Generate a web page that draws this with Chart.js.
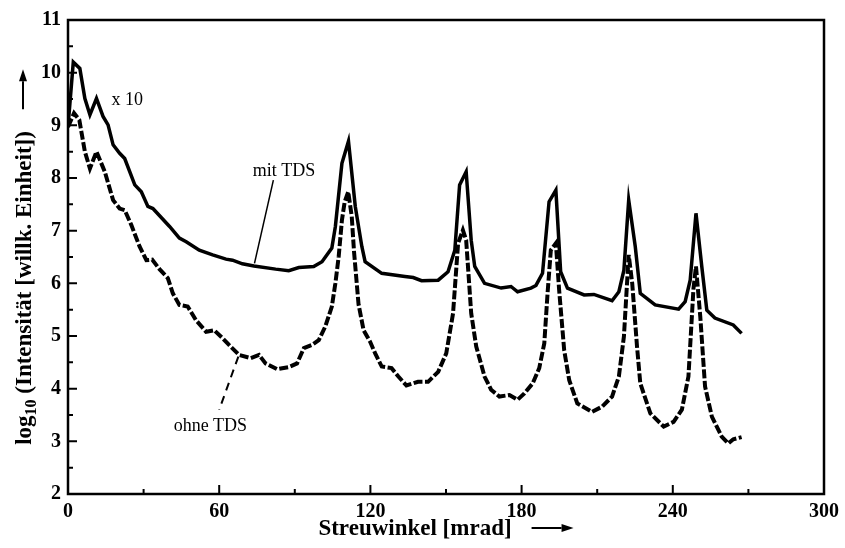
<!DOCTYPE html>
<html>
<head>
<meta charset="utf-8">
<script src="https://cdn.jsdelivr.net/npm/chart.js@4"></script>
<style>
  html, body { margin: 0; padding: 0; background: #fff; }
  #wrap { width: 845px; height: 548px; }
</style>
</head>
<body>
<div id="wrap"><canvas id="chart" width="845" height="548"></canvas></div>
<script>
// mit TDS (x 10)
const angleMit = [0, 2.1, 4.7, 6.7, 8.7, 11.3, 13.9, 15.9, 17.9, 20.5, 22.5, 26.5, 29.1, 31.7, 33.7,
  40.3, 44.2, 46.9, 52.1, 57.4, 62.7, 65.3, 69.2, 73.8, 82.4, 87.6, 91.6, 97.5, 100.8, 104.7,
  106.1, 108.7, 111.3, 114.0, 116.6, 117.9, 124.5, 133.7, 137.0, 140.3, 146.9, 150.8, 153.5,
  155.4, 158.0, 160.0, 161.4, 165.3, 171.9, 175.8, 178.4, 183.7, 185.7, 188.3, 190.9, 193.6,
  195.5, 198.2, 204.8, 208.7, 215.9, 218.6, 220.6, 222.5, 225.1, 227.1, 233.0, 242.3, 244.9,
  246.9, 249.2, 251.5, 253.5, 256.7, 264.0, 267.3];
const logMit = [8.97, 10.20, 10.08, 9.51, 9.20, 9.51, 9.17, 9.01, 8.63, 8.47, 8.37, 7.87, 7.74, 7.46, 7.42,
  7.08, 6.86, 6.79, 6.63, 6.54, 6.46, 6.44, 6.37, 6.33, 6.27, 6.24, 6.30, 6.32, 6.41, 6.67,
  7.08, 8.28, 8.70, 7.46, 6.70, 6.41, 6.19, 6.13, 6.11, 6.05, 6.06, 6.22, 6.63,
  7.87, 8.12, 6.82, 6.32, 6.00, 5.91, 5.94, 5.84, 5.91, 5.96, 6.19, 7.55, 7.77,
  6.22, 5.91, 5.78, 5.79, 5.67, 5.84, 6.25, 7.58, 6.70, 5.81, 5.59, 5.51, 5.65,
  6.06, 7.33, 6.32, 5.49, 5.34, 5.21, 5.05];

// ohne TDS
const angleOhne = [0, 2.4, 4.5, 6.7, 8.7, 11.3, 14.6, 17.9, 20.5, 22.5, 25.1, 28.4, 31.1, 33.4, 36.3,
  39.6, 41.6, 44.2, 47.5, 50.8, 54.8, 58.0, 61.3, 63.9, 67.9, 72.5, 75.8, 78.4, 83.0, 87.6,
  90.9, 93.6, 96.8, 99.5, 102.1, 104.7, 106.1, 107.4, 108.7, 109.8, 111.2, 112.6, 113.5, 115.3,
  117.3, 119.9, 121.9, 124.5, 128.4, 131.1, 134.3, 138.9, 142.9, 146.9, 150.1, 152.8, 154.8,
  156.7, 158.0, 160.0, 162.0, 165.3, 167.9, 171.2, 175.2, 178.4, 181.1, 184.4, 187.0, 189.0,
  190.3, 191.6, 193.6, 194.9, 196.9, 198.9, 202.1, 208.0, 212.0, 215.9, 218.6, 220.6, 222.5,
  223.9, 225.8, 227.1, 231.1, 236.4, 240.3, 243.6, 246.2, 248.2, 249.2, 250.9, 252.8, 255.5,
  259.4, 262.0, 264.0, 267.3];
const logOhne = [8.97, 9.23, 9.10, 8.50, 8.18, 8.50, 8.12, 7.58, 7.42, 7.39, 7.11, 6.70, 6.44, 6.45, 6.27,
  6.10, 5.81, 5.59, 5.56, 5.30, 5.08, 5.11, 4.96, 4.83, 4.64, 4.58, 4.64, 4.48, 4.37, 4.41,
  4.48, 4.77, 4.83, 4.92, 5.18, 5.56, 6.00, 6.50, 7.20, 7.55, 7.74, 7.27, 6.60, 5.60,
  5.11, 4.89, 4.67, 4.42, 4.39, 4.23, 4.06, 4.13, 4.13, 4.32, 4.67, 5.43, 6.76,
  7.01, 6.82, 5.43, 4.80, 4.23, 3.98, 3.85, 3.88, 3.79, 3.91, 4.10, 4.39, 4.86,
  5.81, 6.63, 6.76, 5.87, 4.73, 4.16, 3.72, 3.56, 3.66, 3.85, 4.23, 4.99, 6.54,
  6.00, 4.80, 4.10, 3.53, 3.28, 3.37, 3.60, 4.23, 5.90, 6.32, 5.37, 4.04, 3.47,
  3.09, 2.96, 3.04, 3.08];

// leader lines to the curve labels
const leaderMitX = [81.5, 74.0];
const leaderMitY = [7.96, 6.38];
const leaderOhneX = [67.6, 60.0];
const leaderOhneY = [4.61, 3.60];

// annotations
const noteText = ['x 10', 'mit TDS', 'ohne TDS'];
const noteX = [23.5, 85.7, 56.5];
const noteY = [9.48, 8.13, 3.29];

const xTicks = [0, 60, 120, 180, 240, 300];
const yTicks = [2, 3, 4, 5, 6, 7, 8, 9, 10, 11];

const xTitle = 'Streuwinkel [mrad]';
const yTitleMain = 'log';
const yTitleSub = '10';
const yTitleRest = ' (Intensität [willk. Einheit])';

const serif = "'Liberation Serif', 'Times New Roman', serif";

function toPoints(xs, ys) {
  return xs.map((x, i) => ({ x, y: ys[i] }));
}

function drawArrow(ctx, x1, y1, x2, y2) {
  const ang = Math.atan2(y2 - y1, x2 - x1);
  const head = 12, half = 4;
  ctx.beginPath();
  ctx.moveTo(x1, y1);
  ctx.lineTo(x2 - head * Math.cos(ang), y2 - head * Math.sin(ang));
  ctx.lineWidth = 2;
  ctx.stroke();
  ctx.beginPath();
  ctx.moveTo(x2, y2);
  ctx.lineTo(x2 - head * Math.cos(ang) + half * Math.sin(ang), y2 - head * Math.sin(ang) - half * Math.cos(ang));
  ctx.lineTo(x2 - head * Math.cos(ang) - half * Math.sin(ang), y2 - head * Math.sin(ang) + half * Math.cos(ang));
  ctx.closePath();
  ctx.fill();
}

const decorPlugin = {
  id: 'decor',
  afterDatasetsDraw(chart) {
    const { ctx, chartArea: a, scales } = chart;
    const sx = scales.x, sy = scales.y;
    ctx.save();
    ctx.strokeStyle = '#000';
    ctx.fillStyle = '#000';
    ctx.setLineDash([]);

    // frame
    ctx.lineWidth = 2.5;
    ctx.strokeRect(a.left, a.top, a.right - a.left, a.bottom - a.top);

    // inward ticks
    ctx.lineWidth = 2;
    ctx.beginPath();
    for (let v = 0; v <= 300; v += 30) {
      const px = sx.getPixelForValue(v);
      const len = v % 60 === 0 ? 9 : 5;
      ctx.moveTo(px, a.bottom);
      ctx.lineTo(px, a.bottom - len);
    }
    for (let v = 2; v <= 11; v += 0.5) {
      const py = sy.getPixelForValue(v);
      const len = Number.isInteger(v) ? 9 : 5;
      ctx.moveTo(a.left, py);
      ctx.lineTo(a.left + len, py);
    }
    ctx.stroke();

    // notes
    ctx.font = '18px ' + serif;
    ctx.textAlign = 'center';
    ctx.textBaseline = 'middle';
    noteText.forEach((t, i) => {
      ctx.fillText(t, sx.getPixelForValue(noteX[i]), sy.getPixelForValue(noteY[i]));
    });

    // x title + arrow
    ctx.font = 'bold 23px ' + serif;
    ctx.textAlign = 'left';
    ctx.textBaseline = 'alphabetic';
    const xw = ctx.measureText(xTitle).width;
    const xGap = 20, xArrow = 42;
    const xStart = (a.left + a.right) / 2 - (xw + xGap + xArrow) / 2;
    const xBase = 535;
    ctx.fillText(xTitle, xStart, xBase);
    drawArrow(ctx, xStart + xw + xGap, xBase - 7, xStart + xw + xGap + xArrow, xBase - 7);

    // y title + arrow, rotated
    const bigFont = 'bold 23px ' + serif;
    const subFont = 'bold 16px ' + serif;
    ctx.font = bigFont;
    const w1 = ctx.measureText(yTitleMain).width;
    const w3 = ctx.measureText(yTitleRest).width;
    ctx.font = subFont;
    const w2 = ctx.measureText(yTitleSub).width;
    const yw = w1 + w2 + w3;
    const yGap = 22, yArrow = 40;
    const yTotal = yw + yGap + yArrow;
    const yStart = (a.top + a.bottom) / 2 + yTotal / 2;
    const yBase = 31;
    ctx.save();
    ctx.translate(yBase, yStart);
    ctx.rotate(-Math.PI / 2);
    ctx.font = bigFont;
    ctx.fillText(yTitleMain, 0, 0);
    ctx.font = subFont;
    ctx.fillText(yTitleSub, w1, 5);
    ctx.font = bigFont;
    ctx.fillText(yTitleRest, w1 + w2, 0);
    ctx.restore();
    drawArrow(ctx, yBase - 8, yStart - yw - yGap, yBase - 8, yStart - yw - yGap - yArrow);

    ctx.restore();
  },
};

const tickFont = { family: serif, size: 20, weight: 'bold' };

new Chart(document.getElementById('chart'), {
  type: 'line',
  data: {
    datasets: [
      {
        label: 'mit TDS',
        data: toPoints(angleMit, logMit),
        borderColor: '#000',
        borderWidth: 3.5,
        pointRadius: 0,
        tension: 0,
        fill: false,
      },
      {
        label: 'ohne TDS',
        data: toPoints(angleOhne, logOhne),
        borderColor: '#000',
        borderWidth: 4,
        borderDash: [9, 2.5],
        pointRadius: 0,
        tension: 0,
        fill: false,
      },
      {
        label: 'leader mit',
        data: toPoints(leaderMitX, leaderMitY),
        borderColor: '#000',
        borderWidth: 1.5,
        pointRadius: 0,
        fill: false,
      },
      {
        label: 'leader ohne',
        data: toPoints(leaderOhneX, leaderOhneY),
        borderColor: '#000',
        borderWidth: 2,
        borderDash: [8, 6],
        pointRadius: 0,
        fill: false,
      },
    ],
  },
  options: {
    responsive: false,
    animation: false,
    layout: { padding: { top: 20, right: 19, left: 0, bottom: 0 } },
    plugins: {
      legend: { display: false },
      tooltip: { enabled: false },
    },
    scales: {
      x: {
        type: 'linear',
        min: 0,
        max: 300,
        afterBuildTicks: (s) => { s.ticks = xTicks.map((v) => ({ value: v })); },
        afterFit: (s) => { s.height = 54; },
        ticks: { color: '#000', font: tickFont, padding: 6, maxRotation: 0 },
        grid: { display: false, drawTicks: false },
        border: { display: false },
      },
      y: {
        type: 'linear',
        min: 2,
        max: 11,
        afterBuildTicks: (s) => { s.ticks = yTicks.map((v) => ({ value: v })); },
        afterFit: (s) => { s.width = 68; },
        ticks: { color: '#000', font: tickFont, padding: 7 },
        grid: { display: false, drawTicks: false },
        border: { display: false },
      },
    },
  },
  plugins: [decorPlugin],
});
</script>
</body>
</html>
